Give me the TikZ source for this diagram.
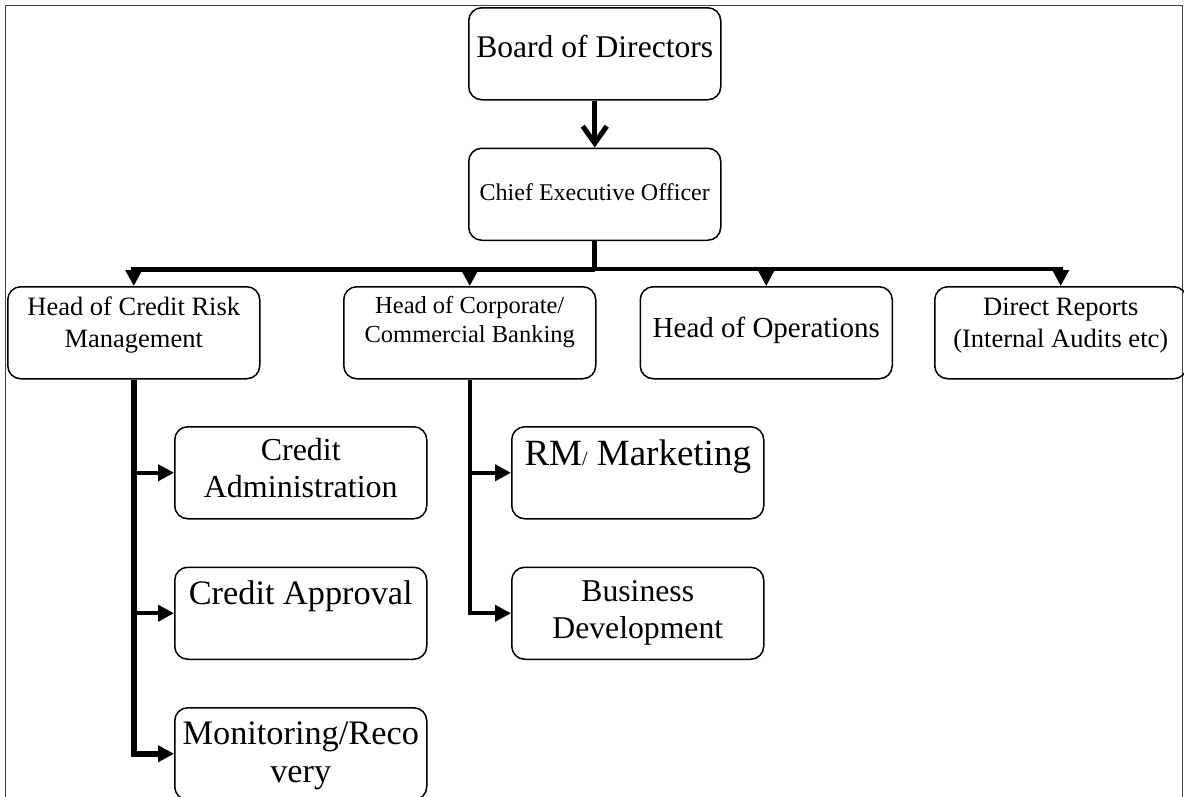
\documentclass[tikz,border=0pt]{standalone}
\usepackage{fontspec}
\setmainfont{Liberation Serif}
\usetikzlibrary{arrows.meta,positioning}

\newcommand{\fsz}[2]{\fontsize{#1pt}{#2pt}\selectfont}
\newcommand{\twolines}[2]{\begin{tabular}[t]{@{}c@{}}#1\\#2\end{tabular}}

\tikzset{
  post/.style={draw, line width=1.5pt, rounded corners=13pt, minimum width=252pt,
    minimum height=92pt, inner sep=0pt, anchor=north west},
  lbl/.style={anchor=base, inner sep=0pt},
  frame/.style={draw=black!75, line width=1pt},
  stem/.style={line width=5pt, -{Straight Barb[length=17pt,width=24pt]}},
  trunk/.style={line width=5pt},
  feed/.style={line width=3.5pt},
  spine/.style={line width=6pt},
  branch/.style={line width=4pt},
  tip/.style={-{Triangle[length=16pt,width=16pt]}}
}

\begin{document}
\begin{tikzpicture}[x=1pt, y=-1pt]
  \useasboundingbox (0,0) rectangle (1184,796);
  \clip (0,0) rectangle (1184,796);
  \draw[frame] (5,800) |- (1182,5) -- (1182,800);

  % boxes
  \node[post] (board) at (468,7) {};
  \node[post, below=47pt of board] (ceo) {};
  \node[post] (credit) at (7,286) {};
  \node[post] (corp) at (343,286) {};
  \node[post, right=43pt of corp] (ops) {};
  \node[post, right=41pt of ops] (direct) {};
  \node[post] (cadmin) at (174,426) {};
  \node[post, below=47pt of cadmin] (capprove) {};
  \node[post, below=47pt of capprove] (monit) {};
  \node[post] (rm) at (511,426) {};
  \node[post, below=47pt of rm] (bizdev) {};

  % texts, sitting at the top of each box
  \node[lbl, font=\fsz{31.6}{36}] (board-t) at ([yshift=-50pt]board.north) {Board of Directors};
  \node[lbl, font=\fsz{24}{28}] (ceo-t) at ([yshift=-53pt]ceo.north) {Chief Executive Officer};
  \node[lbl, font=\fsz{26.5}{32}] (credit-t) at ([yshift=-29pt]credit.north) {\twolines{Head of Credit Risk}{Management}};
  \node[lbl, font=\fsz{24.5}{29}] (corp-t) at ([yshift=-27pt]corp.north) {\twolines{Head of Corporate/}{Commercial Banking}};
  \node[lbl, font=\fsz{29}{34}] (ops-t) at ([yshift=-51pt]ops.north) {Head of Operations};
  \node[lbl, font=\fsz{26.5}{32}] (direct-t) at ([yshift=-29pt]direct.north) {\twolines{Direct Reports}{(Internal Audits etc)}};
  \node[lbl, font=\fsz{32}{37}] (cadmin-t) at ([yshift=-34pt]cadmin.north) {\twolines{Credit}{Administration}};
  \node[lbl, font=\fsz{34.3}{38}] (capprove-t) at ([yshift=-38pt]capprove.north) {Credit Approval};
  \node[lbl, font=\fsz{34.3}{38}] (monit-t) at ([yshift=-37pt]monit.north) {\twolines{Monitoring/Reco}{very}};
  \node[lbl, font=\fsz{37}{42}] (rm-t) at ([yshift=-39pt]rm.north) {RM{\fsz{20}{24}/} Marketing};
  \node[lbl, font=\fsz{31.7}{37}] (bizdev-t) at ([yshift=-35pt]bizdev.north) {\twolines{Business}{Development}};

  % reporting lines
  \coordinate (bus) at ([yshift=-28pt]ceo.south);
  \draw[stem] (board.south) -- (ceo.north);
  \draw[trunk] (ceo.south) -- (bus);
  \draw[trunk, tip] (bus) -| (credit.north);
  \draw[trunk, tip] (bus) -| (corp.north);
  \draw[feed, tip] (bus) -| (ops.north);
  \draw[feed, tip] (bus) -| (direct.north);

  \draw[spine, tip] (credit.south) |- (monit.west);
  \draw[branch, tip] (credit.south |- cadmin.west) -- (cadmin.west);
  \draw[branch, tip] (credit.south |- capprove.west) -- (capprove.west);

  \draw[branch, tip] (corp.south) |- (bizdev.west);
  \draw[branch, tip] (corp.south |- rm.west) -- (rm.west);
\end{tikzpicture}
\end{document}
